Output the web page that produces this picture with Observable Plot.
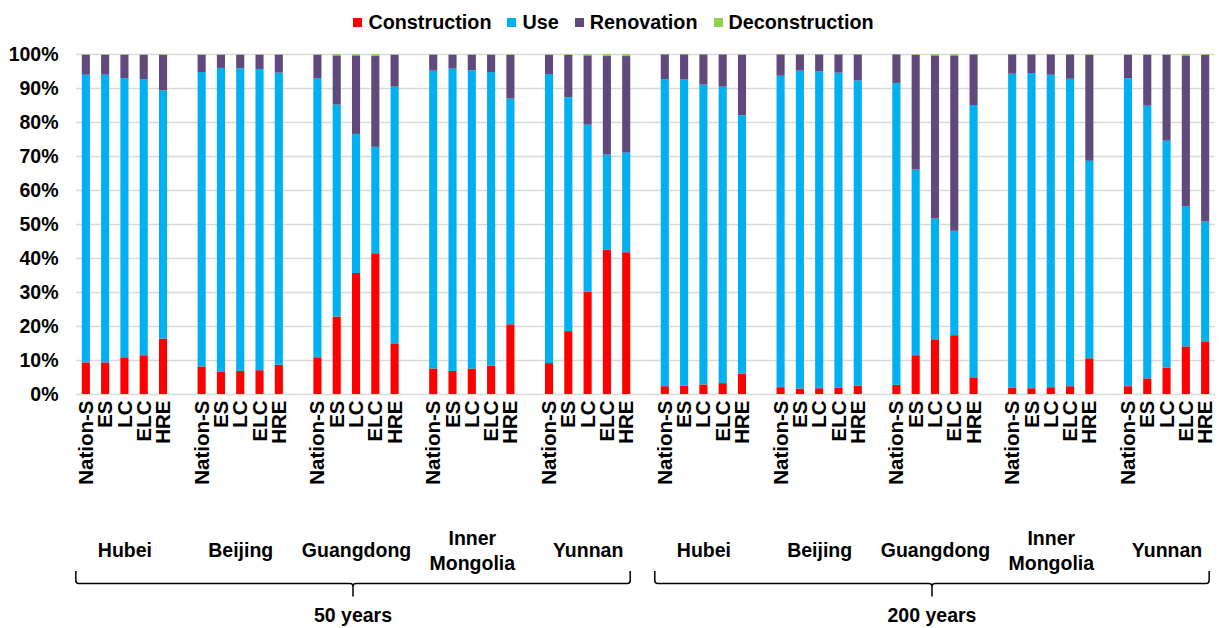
<!DOCTYPE html>
<html><head><meta charset="utf-8">
<script src="https://cdn.jsdelivr.net/npm/d3@7"></script>
<script src="https://cdn.jsdelivr.net/npm/@observablehq/plot@0.6"></script>
<style>
body{margin:0;background:#fff;font-family:"Liberation Sans",Arial,sans-serif;}
#legend{height:40px;display:flex;justify-content:center;align-items:center;gap:16px;font-size:19.8px;font-weight:bold;padding-left:8px;padding-top:4px;box-sizing:border-box;color:#000}
.item{display:flex;align-items:center;gap:6px}
.sw{width:9px;height:9px;display:inline-block}
#chart svg{display:block}
</style></head><body>
<div id="legend"></div><div id="chart"></div>
<script>
const periods = ["50 years", "200 years"];
const regions = ["Hubei", "Beijing", "Guangdong", "Inner Mongolia", "Yunnan"];
const scenarios = ["Nation-S", "ES", "LC", "ELC", "HRE"];
const phases = ["Construction", "Use", "Renovation", "Deconstruction"];
const phaseColors = ["#ff0000", "#00b0f0", "#604a7b", "#92d050"];
const yTicks = [0, 10, 20, 30, 40, 50, 60, 70, 80, 90, 100];

// values in %, ordered period -> region -> scenario
const construction = [
  9.3, 9.3, 10.8, 11.4, 16.3,   8.1, 6.5, 6.8, 7.0, 8.6,   10.8, 22.8, 35.6, 41.4, 14.9,   7.5, 6.8, 7.5, 8.4, 20.5,   9.1, 18.5, 30.1, 42.5, 41.7,
  2.3, 2.4, 2.8, 3.2, 6.0,      2.0, 1.6, 1.7, 1.8, 2.5,   2.7, 11.4, 16.1, 17.3, 4.9,     1.9, 1.7, 2.0, 2.3, 10.5,  2.3, 4.6, 7.8, 14.0, 15.5
];
const use = [
  84.6, 84.6, 82.1, 81.2, 73.0,  86.6, 89.4, 89.0, 88.6, 85.9,  82.1, 62.3, 40.9, 31.3, 75.5,  87.6, 88.9, 87.7, 86.3, 66.4,  85.0, 68.8, 49.1, 27.9, 29.3,
  90.3, 90.1, 88.2, 87.2, 76.0,  91.6, 93.5, 93.2, 92.7, 89.7,  88.8, 54.6, 35.5, 30.7, 80.1,  92.3, 92.7, 91.9, 90.4, 58.1,  90.6, 80.2, 66.7, 41.2, 35.2
];
const renovation = [
  5.9, 5.9, 6.9, 7.2, 10.4,  5.1, 3.9, 4.0, 4.2, 5.3,  6.9, 14.5, 23.1, 26.7, 9.4,   4.7, 4.1, 4.6, 5.1, 12.8,  5.7, 12.4, 20.4, 29.0, 28.4,
  7.3, 7.4, 8.9, 9.5, 17.8,  6.3, 4.8, 5.0, 5.4, 7.7,  8.4, 33.7, 48.0, 51.6, 14.9,  5.7, 5.5, 6.0, 7.2, 31.1,   6.9, 15.0, 25.3, 44.4, 49.0
];
const deconstruction = [
  0.2, 0.2, 0.2, 0.2, 0.3,  0.2, 0.2, 0.2, 0.2, 0.2,  0.2, 0.4, 0.4, 0.6, 0.2,  0.2, 0.2, 0.2, 0.2, 0.3,  0.2, 0.3, 0.4, 0.6, 0.6,
  0.1, 0.1, 0.1, 0.1, 0.2,  0.1, 0.1, 0.1, 0.1, 0.1,  0.1, 0.3, 0.4, 0.4, 0.1,  0.1, 0.1, 0.1, 0.1, 0.3,  0.2, 0.2, 0.2, 0.4, 0.3
];
const series = [construction, use, renovation, deconstruction];

// build slots (with an empty slot between region groups)
const keyOf = (p, r, s) => `${p}|${r}|${s}`;
const slots = [];
const barKeys = [];
let gapCount = 0;
periods.forEach((p, pi) => {
  regions.forEach((r, ri) => {
    if (pi > 0 || ri > 0) slots.push(`gap${gapCount++}`);
    scenarios.forEach(s => { slots.push(keyOf(p, r, s)); barKeys.push(keyOf(p, r, s)); });
  });
});

const rows = [];
phases.forEach((ph, k) => {
  barKeys.forEach((key, i) => rows.push({key, phase: ph, value: series[k][i]}));
});

const groupRows = [];
periods.forEach(p => regions.forEach(r => groupRows.push({key: keyOf(p, r, scenarios[2]), label: r.replace(" ", "\n")})));

// legend
const legend = document.getElementById("legend");
phases.forEach((ph, i) => {
  const it = document.createElement("span"); it.className = "item";
  const sw = document.createElement("span"); sw.className = "sw"; sw.style.background = phaseColors[i];
  it.appendChild(sw); it.appendChild(document.createTextNode(ph));
  legend.appendChild(it);
});

function braces(index, scales, values, dims) {
  const x = scales.x;
  const bw = typeof x.bandwidth === "function" ? x.bandwidth() : 0;
  const yb = dims.height - dims.marginBottom;
  const g = d3.create("svg:g");
  periods.forEach(p => {
    const xl = x(keyOf(p, regions[0], scenarios[0])) + bw / 2 - 10;
    const xr = x(keyOf(p, regions[regions.length - 1], scenarios[scenarios.length - 1])) + bw / 2 + 4;
    const xm = (xl + xr) / 2;
    const t = yb + 177, h = yb + 189.5, tip = yb + 202.5, r = 3;
    const d = `M${xl},${t}L${xl},${h - r}Q${xl},${h} ${xl + r},${h}L${xm - r},${h}Q${xm},${h} ${xm},${h + r}L${xm},${tip}` +
              `M${xm},${h + r}Q${xm},${h} ${xm + r},${h}L${xr - r},${h}Q${xr},${h} ${xr},${h - r}L${xr},${t}`;
    g.append("path").attr("d", d).attr("fill", "none").attr("stroke", "#000").attr("stroke-width", 1.5);
    g.append("text").attr("x", xm).attr("y", yb + 221).attr("dy", "0.35em").attr("text-anchor", "middle")
      .attr("font-size", 19.5).attr("font-weight", "bold").attr("fill", "#000").text(p);
  });
  return g.node();
}

const chart = Plot.plot({
  width: 1219, height: 588,
  marginTop: 14, marginBottom: 234, marginLeft: 76, marginRight: 4,
  style: {fontFamily: "'Liberation Sans', Arial, sans-serif", fontWeight: "bold", fontSize: "19px", color: "#000", background: "#fff"},
  x: {type: "band", domain: slots, paddingInner: 0.58, paddingOuter: 0.3, round: false, axis: null},
  y: {domain: [0, 100], axis: null},
  color: {domain: phases, range: phaseColors},
  marks: [
    Plot.gridY(yTicks, {stroke: "#d9d9d9", strokeOpacity: 1, strokeWidth: 1.3}),
    Plot.barY(rows, {x: "key", y: "value", fill: "phase", order: phases, inset: 0}),
    Plot.axisY(yTicks, {tickSize: 0, tickPadding: 18, label: null, tickFormat: d => d + "%", fontSize: 19.5, fontWeight: "bold"}),
    Plot.axisX(barKeys, {tickSize: 0, tickRotate: -90, tickPadding: 6, label: null, tickFormat: k => k.split("|")[2], fontSize: 20.5, fontWeight: "bold"}),
    Plot.text(groupRows, {x: "key", text: "label", frameAnchor: "bottom", dy: 155, lineAnchor: "middle", lineHeight: 1.26, fontSize: 19.5, fontWeight: "bold", fill: "#000"}),
    braces
  ]
});
document.getElementById("chart").appendChild(chart);
</script>
</body></html>
